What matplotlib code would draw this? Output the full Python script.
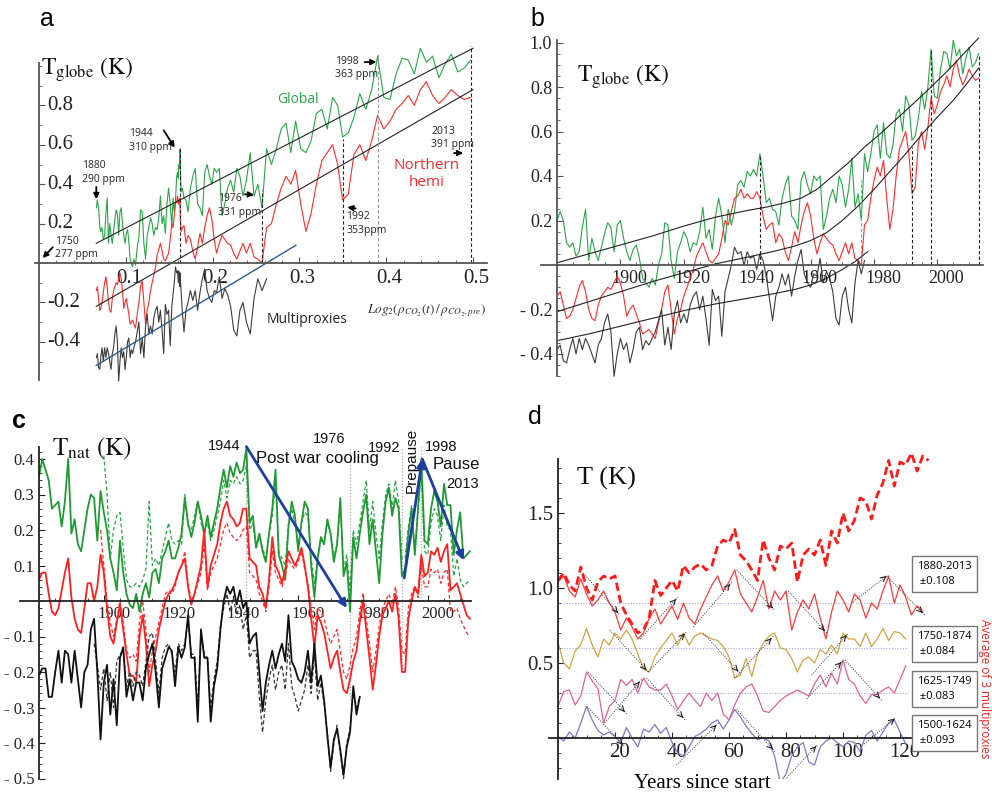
import numpy as np
import matplotlib
matplotlib.use('Agg')
import matplotlib.pyplot as plt
from matplotlib.ticker import FixedLocator, FuncFormatter
from matplotlib.transforms import ScaledTranslation

plt.rcParams['font.family'] = ['Liberation Serif', 'DejaVu Serif']
plt.rcParams['mathtext.fontset'] = 'stix'

# ---------------- data ----------------
# annual anomalies 1880-2013 (panel b)
glob = [0.20, 0.24, 0.20, 0.10, 0.08, 0.10, 0.04, 0.06, 0.17, 0.25,
        0.02, 0.12, 0.06, 0.02, 0.08, 0.14, 0.19, 0.17, 0.06, 0.18,
        0.20, 0.12, 0.06, 0.02, 0.07, 0.09, 0.03, -0.06, -0.08, -0.10,
        -0.06, -0.09, 0.00, 0.05, 0.19, 0.18, 0.02, -0.06, 0.06, 0.10,
        0.15, 0.12, 0.06, 0.10, 0.09, 0.15, 0.26, 0.12, 0.16, 0.07,
        0.22, 0.30, 0.22, 0.10, 0.25, 0.18, 0.24, 0.36, 0.38, 0.35,
        0.42, 0.40, 0.43, 0.40, 0.50, 0.40, 0.28, 0.30, 0.25, 0.24,
        0.18, 0.30, 0.36, 0.40, 0.22, 0.20, 0.16, 0.38, 0.42, 0.36,
        0.32, 0.40, 0.38, 0.40, 0.16, 0.22, 0.30, 0.34, 0.28, 0.40,
        0.36, 0.26, 0.34, 0.48, 0.26, 0.32, 0.20, 0.50, 0.42, 0.50,
        0.60, 0.63, 0.48, 0.64, 0.50, 0.48, 0.54, 0.68, 0.70, 0.60,
        0.76, 0.72, 0.56, 0.58, 0.66, 0.78, 0.70, 0.80, 0.97, 0.76,
        0.75, 0.88, 0.96, 0.95, 0.88, 1.01, 0.94, 0.97, 0.86, 0.93,
        0.98, 0.89, 0.91, 0.95]
nh = [-0.14, -0.12, -0.18, -0.24, -0.23, -0.20, -0.15, -0.10, -0.07, -0.12,
      -0.20, -0.24, -0.25, -0.18, -0.14, -0.12, -0.10, -0.11, -0.08, -0.05,
      -0.08, -0.14, -0.23, -0.20, -0.18, -0.22, -0.26, -0.31, -0.30, -0.29,
      -0.31, -0.33, -0.26, -0.20, -0.12, -0.09, -0.20, -0.31, -0.24, -0.20,
      -0.14, -0.10, -0.06, -0.02, 0.04, 0.07, 0.10, 0.06, 0.02, 0.01,
      0.03, 0.05, 0.12, 0.20, 0.18, 0.24, 0.30, 0.31, 0.34, 0.30,
      0.32, 0.30, 0.30, 0.33, 0.30, 0.22, 0.16, 0.18, 0.19, 0.10,
      0.14, 0.12, 0.06, 0.02, 0.08, 0.15, 0.10, 0.18, 0.24, 0.28,
      0.22, 0.12, 0.05, 0.10, 0.14, 0.12, 0.10, 0.09, 0.05, 0.02,
      0.06, 0.10, 0.05, 0.10, 0.03, 0.02, 0.00, 0.18, 0.20, 0.30,
      0.38, 0.44, 0.40, 0.47, 0.30, 0.16, 0.25, 0.40, 0.52, 0.56,
      0.60, 0.50, 0.32, 0.35, 0.55, 0.60, 0.52, 0.62, 0.75, 0.68,
      0.72, 0.78, 0.81, 0.85, 0.80, 0.88, 0.92, 0.85, 0.81, 0.84,
      0.88, 0.85, 0.83, 0.84]
proxy = [-0.38, -0.36, -0.43, -0.44, -0.38, -0.33, -0.40, -0.33, -0.38, -0.33,
         -0.36, -0.40, -0.44, -0.36, -0.33, -0.26, -0.22, -0.30, -0.50, -0.40,
         -0.33, -0.38, -0.35, -0.44, -0.38, -0.30, -0.28, -0.38, -0.34, -0.36,
         -0.33, -0.30, -0.25, -0.20, -0.36, -0.28, -0.38, -0.22, -0.16, -0.26,
         -0.22, -0.26, -0.18, -0.14, -0.12, -0.20, -0.14, -0.24, -0.36, -0.11,
         -0.16, -0.14, -0.32, -0.12, -0.06, 0.00, 0.08, 0.05, 0.06, 0.00,
         0.06, 0.03, 0.04, -0.02, 0.05, 0.02, -0.05, -0.15, -0.25, -0.14,
         -0.10, -0.04, -0.09, -0.04, -0.14, -0.05, 0.02, 0.07, -0.04, -0.08,
         -0.10, -0.04, -0.05, 0.03, -0.08, -0.03, -0.06, -0.12, -0.24, -0.27,
         -0.14, -0.10, -0.20, -0.26, -0.08, 0.02, -0.04, 0.02]
co2 = [290.0, 290.2, 290.5, 290.8, 291.0, 291.3, 291.6, 291.9, 292.2, 292.5,
       292.8, 293.1, 293.4, 293.7, 294.0, 294.3, 294.6, 294.9, 295.2, 295.5,
       295.8, 296.1, 296.4, 296.7, 297.0, 297.3, 297.6, 297.9, 298.2, 298.5,
       298.8, 299.2, 299.6, 300.0, 300.4, 300.8, 301.2, 301.6, 302.0, 302.4,
       302.8, 303.2, 303.6, 304.0, 304.4, 304.8, 305.2, 305.6, 306.0, 306.4,
       306.8, 307.2, 307.6, 308.0, 308.3, 308.6, 308.9, 309.2, 309.4, 309.6,
       309.7, 309.8, 309.9, 310.0, 310.0, 310.1, 310.3, 310.6, 311.0, 311.5,
       312.0, 312.6, 313.2, 313.8, 314.4, 315.0, 315.6, 316.2, 316.8, 317.4,
       318.0, 318.6, 319.2, 319.9, 320.6, 321.3, 322.0, 322.8, 323.6, 324.4,
       325.2, 326.0, 326.9, 327.9, 328.9, 329.9, 331.0, 332.2, 333.5, 334.8,
       336.1, 337.4, 338.7, 340.0, 341.4, 342.8, 344.2, 345.7, 347.2, 348.7,
       350.2, 351.6, 353.0, 354.6, 356.2, 357.9, 359.6, 361.3, 363.0, 364.8,
       366.6, 368.4, 370.2, 372.0, 373.8, 375.6, 377.4, 379.3, 381.2, 383.1,
       385.0, 387.0, 389.0, 391.0]
co2_pre = 277.0

# panel a: vertical shifts of the curves as drawn there
a_shift_glob, a_shift_nh, a_shift_proxy = 0.08, 0.0, -0.10
a_fit_x = [0.066, 0.5]
a_fit_glob = [0.10, 1.09]
a_fit_nh = [-0.22, 0.88]
a_fit_proxy_x = [0.066, 0.296]
a_fit_proxy = [-0.52, 0.09]
a_mark_ppm = [310, 331, 353, 363, 391]
a_mark_top = [0.58, 0.37, 0.63, 1.07, 1.10]

# panel b: smooth fits (knots) and marker lines
b_fit_up_yr = [1880, 1890, 1900, 1910, 1920, 1930, 1940, 1946, 1952, 1957, 1962, 1967,
               1972, 1977, 1982, 1987, 1992, 1998, 2003, 2008, 2013]
b_fit_up = [0.01, 0.05, 0.09, 0.13, 0.175, 0.215, 0.245, 0.26, 0.28, 0.30, 0.34, 0.40,
            0.46, 0.53, 0.59, 0.655, 0.72, 0.80, 0.87, 0.945, 1.02]
b_fit_mid_yr = [1880, 1890, 1900, 1910, 1920, 1930, 1940, 1948, 1955, 1960, 1965, 1970,
                1975, 1980, 1985, 1990, 1995, 2000, 2005, 2009, 2013]
b_fit_mid = [-0.21, -0.165, -0.12, -0.075, -0.035, 0.005, 0.035, 0.06, 0.085, 0.11, 0.145, 0.20,
             0.265, 0.34, 0.42, 0.50, 0.585, 0.665, 0.74, 0.81, 0.885]
b_fit_low_yr = [1880, 1890, 1900, 1910, 1920, 1930, 1940, 1948, 1955, 1960, 1965, 1970, 1974, 1978]
b_fit_low = [-0.34, -0.31, -0.275, -0.24, -0.205, -0.175, -0.15, -0.13, -0.11, -0.09, -0.06,
             -0.02, 0.015, 0.06]
b_mark_yr = [1944, 1976, 1992, 1998, 2013]
b_mark_top = [0.50, 0.38, 0.53, 0.97, 0.95]

# panel c: natural component
c_glob = [0.35, 0.40, 0.37, 0.34, 0.26, 0.27, 0.28, 0.21, 0.28, 0.40,
          0.19, 0.23, 0.16, 0.14, 0.20, 0.26, 0.30, 0.29, 0.17, 0.31,
          0.25, 0.20, 0.12, 0.08, 0.03, 0.17, 0.08, 0.02, -0.01, -0.02,
          0.02, -0.03, 0.02, 0.05, 0.01, 0.08, 0.09, 0.05, 0.12, 0.14,
          0.17, 0.12, 0.12, 0.15, 0.19, 0.29, 0.22, 0.18, 0.22, 0.28,
          0.24, 0.19, 0.24, 0.18, 0.22, 0.26, 0.32, 0.37, 0.32, 0.38,
          0.35, 0.39, 0.36, 0.37, 0.43, 0.22, 0.24, 0.15, 0.19, 0.14,
          0.11, 0.19, 0.26, 0.37, 0.13, 0.10, 0.06, 0.21, 0.28, 0.24,
          0.14, 0.22, 0.28, 0.26, 0.10, 0.01, 0.12, 0.18, 0.16, 0.23,
          0.19, 0.11, 0.16, 0.29, 0.07, 0.11, -0.03, 0.18, 0.12, 0.19,
          0.25, 0.30, 0.16, 0.23, 0.14, 0.05, 0.19, 0.28, 0.32, 0.24,
          0.29, 0.26, 0.07, 0.09, 0.19, 0.26, 0.13, 0.26, 0.40, 0.17,
          0.16, 0.26, 0.31, 0.28, 0.21, 0.33, 0.27, 0.27, 0.13, 0.20,
          0.25, 0.12, 0.13, 0.14]
c_glob_alt = [0.41, 0.30, 0.12, 0.20, 0.24, 0.25, 0.15, 0.06, 0.04, 0.04,
              0.05, 0.04, 0.06, 0.09, 0.28, 0.10, 0.12, 0.10, 0.14, 0.18,
              0.22, 0.17, 0.16, 0.17, 0.16, 0.30, 0.21, 0.20, 0.24, 0.28,
              0.22, 0.19, 0.22, 0.17, 0.20, 0.24, 0.28, 0.34, 0.29, 0.34,
              0.33, 0.35, 0.33, 0.34, 0.38, 0.20, 0.22, 0.15, 0.18, 0.15,
              0.12, 0.19, 0.24, 0.33, 0.14, 0.12, 0.10, 0.22, 0.26, 0.22,
              0.16, 0.22, 0.25, 0.24, 0.12, 0.05, 0.12, 0.17, 0.16, 0.22,
              0.19, 0.12, 0.16, 0.27, 0.09, 0.13, 0.03, 0.20, 0.16, 0.22,
              0.28, 0.34, 0.20, 0.28, 0.19, 0.12, 0.22, 0.30, 0.33, 0.26,
              0.34, 0.28, 0.12, 0.12, 0.21, 0.27, 0.14, 0.26, 0.36, 0.14,
              0.13, 0.22, 0.26, 0.24, 0.17, 0.27, 0.21, 0.20, 0.07, 0.12,
              0.06, 0.04, 0.05, 0.06]
c_glob_alt_start = 1900
c_nh = [0.06, 0.08, 0.08, 0.02, -0.03, -0.04, -0.02, 0.03, 0.08, 0.12,
        0.01, -0.05, -0.08, -0.09, -0.02, 0.05, 0.05, 0.00, 0.04, 0.13,
        0.08, -0.02, -0.10, -0.12, -0.06, -0.01, -0.08, -0.15, -0.21, -0.21,
        -0.23, -0.10, -0.04, -0.12, -0.24, -0.18, -0.14, -0.08, -0.04, 0.00,
        0.02, 0.03, 0.05, 0.08, 0.10, 0.12, 0.04, -0.01, 0.02, 0.06,
        0.10, 0.20, 0.04, 0.10, 0.13, 0.16, 0.22, 0.26, 0.28, 0.24,
        0.23, 0.21, 0.22, 0.26, 0.26, 0.12, 0.11, 0.10, 0.04, 0.02,
        -0.02, 0.06, 0.18, 0.10, 0.08, 0.05, 0.09, 0.14, 0.12, 0.10,
        0.12, 0.15, 0.10, 0.04, -0.05, -0.13, -0.04, -0.06, -0.09, -0.14,
        -0.19, -0.16, -0.14, -0.20, -0.25, -0.26, -0.22, -0.17, -0.14, -0.06,
        0.00, -0.08, -0.16, -0.25, -0.18, -0.10, -0.04, -0.02, 0.00, -0.03,
        0.02, -0.05, -0.20, -0.20, -0.05, 0.00, 0.04, 0.02, 0.13, 0.07,
        0.08, 0.14, 0.13, 0.15, 0.11, 0.14, 0.16, 0.03, 0.04, 0.05,
        0.02, -0.01, -0.04, -0.05]
c_nh_alt = [0.20,
            0.10, 0.00, -0.06, -0.10, -0.05, 0.00, -0.06, -0.14, -0.16, -0.15,
            -0.17, -0.06, 0.00, -0.08, -0.20, -0.14, -0.10, -0.06, -0.02, 0.02,
            0.03, 0.02, 0.04, 0.08, 0.10, 0.14, 0.05, 0.00, 0.02, 0.05,
            0.08, 0.16, 0.03, 0.08, 0.10, 0.12, 0.16, 0.20, 0.22, 0.19,
            0.18, 0.17, 0.18, 0.20, 0.21, 0.08, 0.07, 0.06, 0.02, 0.00,
            -0.03, 0.04, 0.14, 0.08, 0.06, 0.04, 0.07, 0.12, 0.10, 0.09,
            0.11, 0.14, 0.09, 0.05, -0.02, -0.08, -0.02, -0.03, -0.05, -0.09,
            -0.12, -0.10, -0.08, -0.14, -0.20, -0.22, -0.18, -0.13, -0.10, -0.03,
            0.02, -0.05, -0.12, -0.20, -0.14, -0.07, -0.02, 0.00, 0.02, -0.01,
            0.04, -0.02, -0.14, -0.15, -0.02, 0.02, 0.04, 0.01, 0.10, 0.04,
            0.04, 0.09, 0.08, 0.09, 0.05, 0.08, 0.09, -0.03, -0.03, -0.02,
            -0.05, -0.07, -0.09, -0.10]
c_nh_alt_start = 1899
c_proxy = [-0.21, -0.19, -0.19, -0.27, -0.27, -0.20, -0.14, -0.23, -0.14, -0.15,
           -0.23, -0.14, -0.22, -0.30, -0.20, -0.18, -0.08, -0.05, -0.20, -0.39,
           -0.23, -0.18, -0.32, -0.22, -0.35, -0.16, -0.13, -0.27, -0.22, -0.28,
           -0.23, -0.23, -0.28, -0.19, -0.15, -0.12, -0.20, -0.30, -0.19, -0.16,
           -0.13, -0.14, -0.24, -0.13, -0.16, -0.13, -0.04, -0.16, -0.16, -0.34,
           -0.08, -0.16, -0.16, -0.34, -0.24, -0.19, -0.08, 0.00, 0.04, 0.02,
           0.04, -0.01, 0.03, -0.02, 0.00, -0.12, -0.10, -0.09, -0.20, -0.31,
           -0.23, -0.18, -0.14, -0.19, -0.15, -0.12, -0.17, -0.04, -0.17, -0.19,
           -0.22, -0.23, -0.20, -0.14, -0.23, -0.12, -0.24, -0.21, -0.28, -0.38,
           -0.47, -0.39, -0.36, -0.42, -0.49, -0.41, -0.37, -0.24, -0.32, -0.27]
c_proxy_alt = [-0.12, -0.18, -0.25,
               -0.19, -0.28, -0.20, -0.30, -0.17, -0.15, -0.14, -0.24, -0.20, -0.24,
               -0.20, -0.21, -0.24, -0.17, -0.10, -0.09, -0.17, -0.26, -0.16, -0.13,
               -0.12, -0.15, -0.20, -0.12, -0.14, -0.12, -0.05, -0.15, -0.15, -0.30,
               -0.09, -0.15, -0.16, -0.30, -0.22, -0.17, -0.07, -0.02, 0.02, -0.03,
               0.01, -0.04, -0.01, -0.08, -0.04, -0.16, -0.14, -0.14, -0.27, -0.37,
               -0.28, -0.22, -0.18, -0.25, -0.20, -0.18, -0.25, -0.12, -0.24, -0.27,
               -0.31, -0.28, -0.25, -0.18, -0.26, -0.15, -0.28, -0.23, -0.29, -0.37,
               -0.48, -0.40, -0.35, -0.43, -0.50, -0.40, -0.36, -0.26, -0.30, -0.27]
c_proxy_alt_start = 1897
c_vline_yr = [1944, 1976, 1992, 1998]
c_vline_low = [0.0, -0.28, -0.20, 0.0]
c_trend_yr = [1944, 1975, 1992.7, 1998.3, 2011]
c_trend_val = [0.435, -0.02, 0.065, 0.40, 0.115]

# panel d: years since start (2-year steps)
d_raw_1880 = [1.05, 1.10, 1.02, 0.98, 1.14, 1.00, 0.92, 1.04, 1.08, 1.06,
              1.08, 0.90, 0.82, 0.76, 0.70, 0.72, 0.80, 1.05, 0.95, 1.00,
              1.05, 0.98, 1.15, 1.10, 1.14, 1.16, 1.12, 1.15, 1.28, 1.32,
              1.30, 1.39, 1.22, 1.18, 1.12, 1.05, 1.32, 1.20, 1.12, 1.28,
              1.26, 1.30, 1.04, 1.22, 1.26, 1.22, 1.32, 1.15, 1.38, 1.30,
              1.50, 1.38, 1.45, 1.60, 1.58, 1.46, 1.62, 1.70, 1.85, 1.68,
              1.84, 1.82, 1.90, 1.78, 1.88, 1.85]
d_1880 = [1.04, 1.08, 0.98, 0.94, 1.06, 0.96, 0.88, 0.92, 0.98, 0.90,
          0.84, 0.72, 0.80, 0.74, 0.66, 0.70, 0.80, 0.86, 0.76, 0.82,
          0.88, 0.79, 0.90, 0.80, 0.76, 0.86, 0.94, 1.02, 1.08, 0.98,
          1.04, 1.12, 0.96, 0.90, 0.84, 0.94, 1.05, 0.86, 0.98, 0.92,
          0.98, 0.72, 0.84, 0.92, 0.86, 0.96, 0.80, 0.66, 0.84, 0.98,
          0.92, 0.84, 0.96, 0.92, 0.80, 0.90, 0.86, 0.98, 1.08, 0.90,
          1.02, 0.94, 0.82, 0.88, 0.84]
d_1750 = [0.64, 0.50, 0.46, 0.58, 0.62, 0.73, 0.62, 0.54, 0.66, 0.62,
          0.70, 0.66, 0.72, 0.66, 0.56, 0.46, 0.44, 0.54, 0.60, 0.65,
          0.70, 0.62, 0.70, 0.62, 0.68, 0.70, 0.68, 0.66, 0.65, 0.61,
          0.54, 0.40, 0.42, 0.53, 0.41, 0.56, 0.63, 0.68, 0.70, 0.60,
          0.59, 0.53, 0.44, 0.52, 0.54, 0.50, 0.59, 0.56, 0.62, 0.56,
          0.70, 0.66, 0.66, 0.61, 0.70, 0.61, 0.66, 0.73, 0.65, 0.71,
          0.70, 0.66]
d_1625 = [0.21, 0.31, 0.32, 0.22, 0.28, 0.44, 0.38, 0.33, 0.10, 0.21,
          0.25, 0.39, 0.35, 0.39, 0.30, 0.40, 0.34, 0.32, 0.32, 0.36,
          0.28, 0.19, 0.25, 0.30, 0.25, 0.21, 0.30, 0.25, 0.30, 0.16,
          0.12, 0.22, 0.30, 0.34, 0.36, 0.28, 0.18, 0.17, 0.21, 0.25,
          0.28, 0.30, 0.32, 0.30, 0.28, 0.36, 0.42, 0.34, 0.43, 0.36,
          0.52, 0.39, 0.36, 0.28, 0.23, 0.29, 0.29, 0.32, 0.34, 0.30,
          0.39, 0.48]
d_1500 = [0.01, -0.02, 0.04, 0.00, 0.10, 0.21, 0.12, 0.05, 0.02, 0.04,
          0.01, -0.03, 0.07, 0.00, -0.06, 0.06, 0.04, 0.09, 0.03, 0.07,
          -0.03, -0.10, -0.12, -0.06, 0.01, 0.03, 0.06, 0.10, 0.12, 0.06,
          0.12, 0.19, 0.14, 0.08, 0.03, -0.01, 0.00, -0.02, -0.12, -0.30,
          -0.24, -0.12, -0.06, -0.03, -0.16, -0.18, -0.06, -0.02, 0.00, -0.03,
          -0.06, -0.02, -0.03, -0.09, 0.02, 0.05, -0.02, 0.04, 0.10, 0.12,
          0.04, -0.04]
d_levels = [0.9, 0.6, 0.3]
d_boxes = [('1880-2013', '0.108'), ('1750-1874', '0.084'),
           ('1625-1749', '0.083'), ('1500-1624', '0.093')]
# swings (start x, start T, end x, end T)
d_swings = [(10.6, 0.44, 24.1, 0.16), (10.1, 0.21, 23.5, -0.06), (16.4, 0.10, 29.3, 0.39),
            (18.2, 0.72, 31.7, 0.44), (31.7, 0.44, 45.2, 0.71), (31.1, 0.40, 44.6, 0.12),
            (41.6, -0.18, 56.3, 0.10), (51.0, 0.70, 63.9, 0.43), (62.0, 0.40, 75.6, 0.68),
            (62.7, 0.19, 76.1, -0.09), (78.5, -0.30, 91.3, -0.04), (87.3, 0.26, 100.1, 0.52),
            (89.0, 0.42, 101.9, 0.70), (100.7, 0.52, 113.6, 0.25), (107.4, -0.04, 118.2, 0.13),
            (80.8, 0.98, 94.3, 0.70), (115.3, 1.08, 128.7, 0.82), (8.9, 1.10, 21.7, 0.82),
            (28.8, 0.66, 42.1, 0.94), (47.5, 0.74, 61.0, 1.04), (62.7, 1.12, 76.1, 0.85),
            (103.0, 0.90, 115.3, 1.08)]

GREEN, RED, GREY = '#2aa548', '#ff2b2b', '#3c3c3c'
SANS = ['Liberation Sans', 'DejaVu Sans']
W, H = 992, 792
fig = plt.figure(figsize=(W / 100, H / 100), dpi=100)


def place(xlim, ylim, px, py):
    l, r = px(xlim[0]), px(xlim[1])
    t, b = py(ylim[1]), py(ylim[0])
    ax = fig.add_axes([l / W, 1 - b / H, (r - l) / W, (b - t) / H])
    ax.set_xlim(*xlim)
    ax.set_ylim(*ylim)
    ax.patch.set_alpha(0)
    return ax


def axes_cross(ax, x0, xb, yb, xmaj, xmin, ymaj, ymin, color='#555555'):
    ax.spines['top'].set_visible(False)
    ax.spines['right'].set_visible(False)
    ax.spines['left'].set_position(('data', x0))
    ax.spines['bottom'].set_position(('data', 0))
    ax.spines['left'].set_bounds(*yb)
    ax.spines['bottom'].set_bounds(*xb)
    for s in ('left', 'bottom'):
        ax.spines[s].set_color(color)
        ax.spines[s].set_linewidth(1.3)
    ax.xaxis.set_major_locator(FixedLocator(xmaj))
    ax.xaxis.set_minor_locator(FixedLocator(xmin))
    ax.yaxis.set_major_locator(FixedLocator(ymaj))
    ax.yaxis.set_minor_locator(FixedLocator(ymin))
    ax.tick_params(which='both', direction='in', color=color, labelcolor='#222222')
    ax.tick_params(which='major', length=4)
    ax.tick_params(which='minor', length=2)


def shift_xlabels(ax, dx_px):
    off = ScaledTranslation(dx_px / 100, 0, fig.dpi_scale_trans)
    for lab in ax.get_xticklabels():
        lab.set_transform(lab.get_transform() + off)


def neg_fmt(v, pos):
    return ('- ' if v < 0 else '') + f'{abs(v):.1f}'


def px_fig(x, y):
    return x / W, 1 - y / H


# ---------------- panel a ----------------
ax = place((-0.0046, 0.516), (-0.62, 1.15), lambda x: 39 + 868 * x, lambda y: 263 - 197 * y)
axes_cross(ax, 0, (-0.005, 0.516), (-0.594, 1.015),
           [0.1, 0.2, 0.3, 0.4, 0.5], np.arange(0.02, 0.515, 0.02),
           [-0.4, -0.2, 0.2, 0.4, 0.6, 0.8], np.arange(-0.5, 1.01, 0.1))
ax.set_xticklabels(['0.1', '0.2', '0.3', '0.4', '0.5'], fontsize=15)
ax.tick_params(axis='x', pad=4)
ax.set_yticklabels([])
shift_xlabels(ax, 3)
for v in [-0.4, -0.2, 0.2, 0.4, 0.6, 0.8]:
    ax.text(0.009, v, f'{v:.1f}', fontsize=15, ha='left', va='center', color='#222222')

xa = np.log2(np.array(co2) / co2_pre)
ax.plot(xa, np.array(glob) + a_shift_glob, color=GREEN, lw=0.8)
ax.plot(xa, np.array(nh) + a_shift_nh, color=RED, lw=0.8)
ax.plot(xa[:len(proxy)], np.array(proxy) + a_shift_proxy, color=GREY, lw=0.8)
ax.plot(a_fit_x, a_fit_glob, color='#222222', lw=0.8)
ax.plot(a_fit_x, a_fit_nh, color='#222222', lw=0.8)
ax.plot(a_fit_proxy_x, a_fit_proxy, color='#2b5d88', lw=1.0)
for ppm, top in zip(a_mark_ppm, a_mark_top):
    c = '#999999' if ppm == 363 else '#222222'
    ax.plot([np.log2(ppm / co2_pre)] * 2, [0, top], ls=(0, (3, 2)), color=c, lw=0.8)

anno = dict(fontsize=7.5, family=['Open Sans', 'DejaVu Sans'], color='#222222', linespacing=1.35)
arr = dict(arrowstyle='-|>', color='black', lw=1.3, mutation_scale=8)
ax.text(0.341, 0.99, '1998\n363 ppm', va='center', **anno)
ax.annotate('', xy=(0.392, 1.02), xytext=(0.372, 1.02), arrowprops=arr)
ax.text(0.104, 0.62, '1944\n310 ppm', va='center', **anno)
ax.annotate('', xy=(0.158, 0.574), xytext=(0.142, 0.685), arrowprops=arr)
ax.text(0.050, 0.46, '1880\n290 ppm', va='center', **anno)
ax.annotate('', xy=(0.066, 0.31), xytext=(0.066, 0.40), arrowprops=arr)
ax.text(0.206, 0.29, '1976\n331 ppm', va='center', **anno)
ax.annotate('', xy=(0.251, 0.345), xytext=(0.234, 0.35), arrowprops=arr)
ax.text(0.354, 0.20, '1992\n353ppm', va='center', **anno)
ax.annotate('', xy=(0.352, 0.285), xytext=(0.368, 0.275), arrowprops=arr)
ax.text(0.452, 0.635, '2013\n391 ppm', va='center', **anno)
ax.annotate('', xy=(0.492, 0.558), xytext=(0.475, 0.558), arrowprops=arr)
ax.text(0.018, 0.076, '1750\n277 ppm', va='center', **anno)
ax.annotate('', xy=(0.002, 0.015), xytext=(0.018, 0.09), arrowprops=arr)
ax.text(0.298, 0.83, 'Global', color=GREEN, fontsize=10, ha='center', va='center',
        family=['Open Sans', 'DejaVu Sans'])
ax.text(0.447, 0.45, 'Northern\nhemi', color=RED, fontsize=11, ha='center', va='center',
        family=['Open Sans', 'DejaVu Sans'], linespacing=1.2)
ax.text(0.309, -0.285, 'Multiproxies', color='#222222', fontsize=10, ha='center', va='center',
        family=['Open Sans', 'DejaVu Sans'])
ax.text(0.447, -0.24, r'$Log_2\left(\rho_{CO_2}(t)\,/\,\rho_{CO_2,pre}\right)$',
        fontsize=9.5, ha='center', va='center', color='#333333')
fig.text(*px_fig(41, 75), r'$\mathrm{T}_{\mathrm{globe}}\ \mathrm{(K)}$', fontsize=17, color='#111111')
fig.text(*px_fig(40, 26), 'a', fontsize=18, family=SANS)

# ---------------- panel b ----------------
ax = place((1875, 2014.5), (-0.52, 1.03), lambda x: 557 + 3.17 * (x - 1880), lambda y: 265 - 222.5 * y)
axes_cross(ax, 1880, (1875, 2014.3), (-0.5, 1.01),
           [1900, 1920, 1940, 1960, 1980, 2000], np.arange(1885, 2014, 5),
           [-0.4, -0.2, 0.2, 0.4, 0.6, 0.8, 1.0], np.arange(-0.5, 1.01, 0.05))
ax.yaxis.set_major_formatter(FuncFormatter(neg_fmt))
ax.tick_params(labelsize=13)
shift_xlabels(ax, 9)
yrs = 1880 + np.arange(len(glob))
ax.plot(yrs, glob, color=GREEN, lw=0.8)
ax.plot(yrs, nh, color=RED, lw=0.8)
ax.plot(yrs[:len(proxy)], proxy, color=GREY, lw=0.8)
ax.plot(b_fit_up_yr, b_fit_up, color='#222222', lw=0.8)
ax.plot(b_fit_mid_yr, b_fit_mid, color='#222222', lw=0.8)
ax.plot(b_fit_low_yr, b_fit_low, color='#222222', lw=0.8)
for yr, top in zip(b_mark_yr, b_mark_top):
    c = '#999999' if yr == 1976 else '#222222'
    ax.plot([yr, yr], [0, top], ls=(0, (3, 2)), color=c, lw=0.8)
fig.text(*px_fig(577, 82), r'$\mathrm{T}_{\mathrm{globe}}\ \mathrm{(K)}$', fontsize=17, color='#111111')
fig.text(*px_fig(530, 26), 'b', fontsize=18, family=SANS)

# ---------------- panel c ----------------
ax = place((1874, 2013.8), (-0.51, 0.45), lambda x: 39 + 3.24 * (x - 1880), lambda y: 601 - 355 * y)
axes_cross(ax, 1880, (1874, 2013.3), (-0.5, 0.435),
           [1900, 1920, 1940, 1960, 1980, 2000], np.arange(1885, 2013, 5),
           [-0.5, -0.4, -0.3, -0.2, -0.1, 0.1, 0.2, 0.3, 0.4], np.arange(-0.5, 0.43, 0.02),
           color='#222222')
ax.yaxis.set_major_formatter(FuncFormatter(neg_fmt))
ax.tick_params(labelsize=12)
shift_xlabels(ax, 10)
for yr, lo in zip(c_vline_yr, c_vline_low):
    ax.plot([yr, yr], [lo, 0.435], ls=(0, (1, 1.5)), color='#aaaaaa', lw=0.9)
ax.plot(c_glob_alt_start + np.arange(len(c_glob_alt)), c_glob_alt, color=GREEN, lw=0.9, ls=(0, (3, 2)))
ax.plot(1880 + np.arange(len(c_glob)), c_glob, color='#1f9a33', lw=1.3)
ax.plot(c_nh_alt_start + np.arange(len(c_nh_alt)), c_nh_alt, color=RED, lw=0.9, ls=(0, (3, 2)))
ax.plot(1880 + np.arange(len(c_nh)), c_nh, color='#ff1f1f', lw=1.3)
ax.plot(c_proxy_alt_start + np.arange(len(c_proxy_alt)), c_proxy_alt, color='#333333', lw=0.9, ls=(0, (3, 2)))
ax.plot(1880 + np.arange(len(c_proxy)), c_proxy, color='#111111', lw=1.3)
blue = dict(arrowstyle='-|>', color='#1f3f9f', lw=2, mutation_scale=12, shrinkA=0, shrinkB=0)
ax.annotate('', xy=(c_trend_yr[1], c_trend_val[1]), xytext=(c_trend_yr[0], c_trend_val[0]), arrowprops=blue)
ax.annotate('', xy=(c_trend_yr[3], c_trend_val[3]), xytext=(c_trend_yr[2], c_trend_val[2]), arrowprops=blue)
ax.annotate('', xy=(c_trend_yr[4], c_trend_val[4]), xytext=(c_trend_yr[3], c_trend_val[3]), arrowprops=blue)
ct = dict(family=SANS, color='#111111')
ax.text(1942, 0.437, '1944', ha='right', va='center', fontsize=10.5, **ct)
ax.text(1974.5, 0.455, '1976', ha='right', va='center', fontsize=10.5, **ct)
ax.text(1947, 0.400, 'Post war cooling', ha='left', va='center', fontsize=12, **ct)
ax.text(1991.4, 0.43, '1992', ha='right', va='center', fontsize=10.5, **ct)
ax.text(1994.9, 0.397, 'Prepause', ha='center', va='center', fontsize=11, rotation=90, **ct)
ax.text(1999.1, 0.434, '1998', ha='left', va='center', fontsize=10.5, **ct)
ax.text(2001.6, 0.385, 'Pause', ha='left', va='center', fontsize=12, **ct)
ax.text(2005.6, 0.33, '2013', ha='left', va='center', fontsize=10.5, **ct)
fig.text(*px_fig(52, 455), r'$\mathrm{T}_{\mathrm{nat}}\ \mathrm{(K)}$', fontsize=18, color='#111111')
fig.text(*px_fig(12, 428), 'c', fontsize=18, family=SANS, weight='bold')

# ---------------- panel d ----------------
ax = place((-3, 135), (-0.27, 1.92), lambda x: 558 + 2.85 * x, lambda y: 738 - 150 * y)
axes_cross(ax, 0, (-3, 125), (-0.27, 1.86),
           [20, 40, 60, 80, 100, 120], np.arange(5, 125, 5),
           [0.5, 1.0, 1.5], np.arange(-0.2, 1.86, 0.1), color='#222222')
ax.yaxis.set_major_formatter(FuncFormatter(lambda v, p: f'{v:.1f}'))
ax.tick_params(labelsize=15)
shift_xlabels(ax, 5)
for lv in d_levels:
    ax.plot([0, 122.5], [lv, lv], ls=(0, (1, 1.5)), color='#a6a6e0', lw=0.8)
ax.plot(2 * np.arange(len(d_1500)), d_1500, color='#7a7acc', lw=0.9)
ax.plot(2 * np.arange(len(d_1625)), d_1625, color='#e0609a', lw=0.9)
ax.plot(2 * np.arange(len(d_1750)), d_1750, color='#cfa544', lw=0.9)
ax.plot(2 * np.arange(len(d_1880)), d_1880, color='#ff3a3a', lw=0.9)
ax.plot(2 * np.arange(len(d_raw_1880)), d_raw_1880, color='#ff1a1a', lw=2.0, ls=(0, (3, 1.5)))
for x0, y0, x1, y1 in d_swings:
    ax.plot([x0, x1], [y0, y1], ls=(0, (1, 1.5)), color='#333333', lw=0.7)
    ax.annotate('', xy=(x1, y1), xytext=(x1 - 0.12 * (x1 - x0), y1 - 0.12 * (y1 - y0)),
                arrowprops=dict(arrowstyle='->', color='#222222', lw=0.8, mutation_scale=9))
box_y = [574, 644, 689, 733]
for (per, sd), by in zip(d_boxes, box_y):
    fig.text(*px_fig(917, by), f'{per}\n \u00b1{sd}', fontsize=8, family=['Open Sans', 'DejaVu Sans'],
             va='center', ha='left', linespacing=1.5,
             bbox=dict(boxstyle='square,pad=0.45', fc='white', ec='#777777', lw=1))
fig.text(*px_fig(984, 689), 'Average of 3 multiproxies', rotation=270, color='#ee2222',
         fontsize=8.5, family=['Open Sans', 'DejaVu Sans'], ha='center', va='center')
fig.text(*px_fig(702, 783), 'Years since start', fontsize=15, ha='center', va='center')
fig.text(*px_fig(577, 485), 'T (K)', fontsize=19, color='#111111')
fig.text(*px_fig(528, 424), 'd', fontsize=18, family=SANS)

fig.savefig('out.png', dpi=100)
